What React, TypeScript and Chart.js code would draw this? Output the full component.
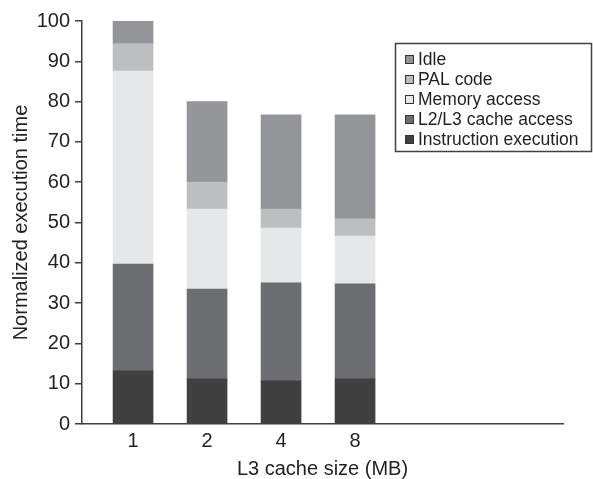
import React, { useEffect, useRef } from "react";
import { Chart, registerables } from "chart.js";

Chart.register(...registerables);

const xLabels = ["1", "2", "4", "8"];
const seriesNames = ["Instruction execution", "L2/L3 cache access", "Memory access", "PAL code", "Idle"];
const instruction = [13.2, 11.2, 10.7, 11.2];
const l2l3 = [26.5, 22.3, 24.3, 23.6];
const memory = [47.9, 19.8, 13.6, 11.8];
const pal = [6.8, 6.7, 4.7, 4.3];
const idle = [5.6, 20.0, 23.4, 25.8];
const seriesColors = ["#404041", "#6d6e71", "#e6e7e8", "#bcbec0", "#939598"];
const yTicks = [0, 10, 20, 30, 40, 50, 60, 70, 80, 90, 100];

const FONT = "'Liberation Sans', Arial, Helvetica, sans-serif";
const TEXT = "#231f20";
const AXIS = "#414042";

const legendPlugin = {
  id: "boxLegend",
  afterDraw(chart: any) {
    const ctx = chart.ctx;
    const ds = chart.data.datasets;
    const left = 395.5, top = 43.5, w = 196, h = 108;
    ctx.save();
    ctx.strokeStyle = AXIS;
    ctx.lineWidth = 1.5;
    ctx.strokeRect(left, top, w, h);
    ctx.font = `17.5px ${FONT}`;
    ctx.textBaseline = "middle";
    ctx.textAlign = "left";
    const order = ds.map((_: any, i: number) => i).reverse();
    order.forEach((di: number, row: number) => {
      const cy = 59 + row * 20;
      ctx.fillStyle = ds[di].backgroundColor;
      ctx.fillRect(405, cy - 4, 9, 9);
      ctx.strokeStyle = "#333";
      ctx.lineWidth = 1;
      ctx.strokeRect(405.5, cy - 3.5, 8, 8);
      ctx.fillStyle = TEXT;
      ctx.fillText(ds[di].label, 418, cy + 1);
    });
    ctx.restore();
  },
};

export default function App() {
  const ref = useRef<HTMLCanvasElement>(null);
  useEffect(() => {
    const values = [instruction, l2l3, memory, pal, idle];
    const chart = new Chart(ref.current!, {
      type: "bar",
      data: {
        datasets: values.map((arr, k) => ({
          label: seriesNames[k],
          data: arr.map((v, i) => ({ x: i, y: v })),
          backgroundColor: seriesColors[k],
          borderWidth: 0,
          barThickness: 40,
        })),
      },
      options: {
        responsive: false,
        animation: false,
        layout: { padding: { top: 21, right: 30, left: 0, bottom: 0 } },
        plugins: { legend: { display: false }, tooltip: { enabled: false } },
        scales: {
          x: {
            type: "linear",
            stacked: true,
            offset: false,
            min: -0.69,
            max: 5.81,
            grid: { display: false, drawTicks: false },
            border: { display: true, color: AXIS, width: 1.5 },
            afterBuildTicks: (scale: any) => {
              scale.ticks = xLabels.map((_, i) => ({ value: i }));
            },
            afterFit: (scale: any) => {
              scale.height = 55;
            },
            ticks: {
              autoSkip: false,
              maxRotation: 0,
              padding: 5,
              color: TEXT,
              font: { family: FONT, size: 20 },
              callback: (v: any) => xLabels[Math.round(Number(v))] ?? "",
            },
            title: {
              display: true,
              text: "L3 cache size (MB)",
              color: TEXT,
              font: { family: FONT, size: 20, lineHeight: 1 },
              padding: { top: 0, bottom: 0 },
            },
          },
          y: {
            stacked: true,
            min: 0,
            max: 100,
            grid: {
              drawOnChartArea: false,
              drawTicks: true,
              tickLength: 7,
              tickColor: AXIS,
              lineWidth: 1.5,
            },
            border: { display: true, color: AXIS, width: 1.5 },
            afterBuildTicks: (scale: any) => {
              scale.ticks = yTicks.map((v) => ({ value: v }));
            },
            afterFit: (scale: any) => {
              scale.width = 82;
            },
            ticks: {
              padding: 5,
              color: TEXT,
              font: { family: FONT, size: 20 },
            },
            title: {
              display: true,
              text: "Normalized execution time",
              color: TEXT,
              font: { family: FONT, size: 20 },
              padding: { top: 9, bottom: 0 },
            },
          },
        },
      },
      plugins: [legendPlugin],
    } as any);
    return () => chart.destroy();
  }, []);
  return (
    <div style={{ position: "absolute", left: 0, top: 0, width: 593, height: 479, background: "#fff" }}>
      <canvas ref={ref} width={593} height={479} style={{ display: "block" }} />
    </div>
  );
}
